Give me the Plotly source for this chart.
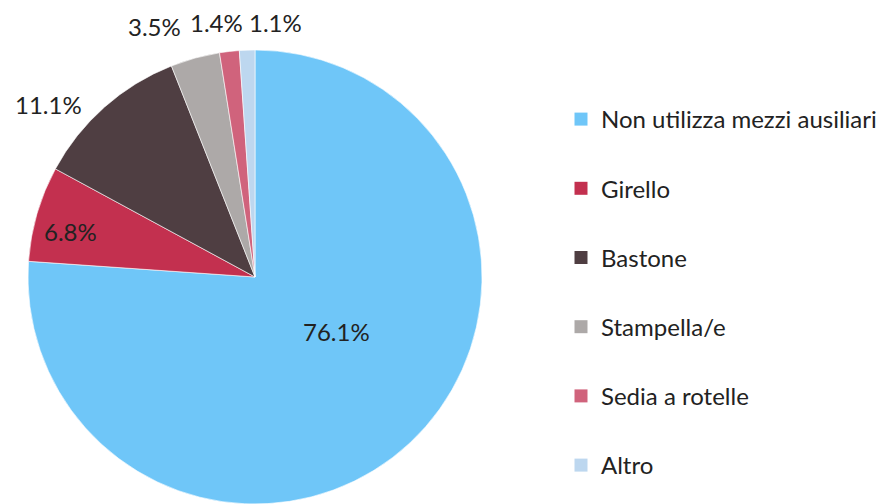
import plotly.graph_objects as go

categories = ["Non utilizza mezzi ausiliari", "Girello", "Bastone", "Stampella/e", "Sedia a rotelle", "Altro"]
values = [76.1, 6.8, 11.1, 3.5, 1.4, 1.1]
colors = ["#6FC6F8", "#C3304F", "#4F3E42", "#ADA9A8", "#D0637C", "#BDD7EF"]

W, H = 891, 504
OFF = 8  # page body margin compensation
# label anchor positions in page pixels (text placement only)
label_px = [(336, 331), (70, 231), (48, 104), (154, 27), (216, 22), (275, 22)]

CX, CY, R = 255 - OFF, 277 - OFF, 227

FONT = "Lato"
fig = go.Figure()
fig.add_trace(go.Pie(
    labels=categories, values=values, sort=False, direction="clockwise", rotation=0,
    marker=dict(colors=colors, line=dict(color="white", width=0.6)),
    textinfo="none", hoverinfo="label+percent", showlegend=False,
    domain=dict(x=[(CX - R) / W, (CX + R) / W], y=[1 - (CY + R) / H, 1 - (CY - R) / H]),
))
for i, (cat, col) in enumerate(zip(categories, colors)):
    fig.add_trace(go.Scatter(
        x=[None], y=[None], mode="markers", name=cat, legendgroup=f"g{i}",
        marker=dict(symbol="square", size=13, color=col), showlegend=True,
    ))

for v, (px, py) in zip(values, label_px):
    fig.add_annotation(x=(px - OFF) / W, y=1 - (py - OFF) / H, xref="paper", yref="paper",
                       xanchor="center", yanchor="middle",
                       text=f"{v:.1f}%", showarrow=False,
                       font=dict(family=FONT, size=24, color="#222"))

fig.update_layout(
    width=W, height=H, margin=dict(l=0, r=0, t=0, b=0),
    paper_bgcolor="white", plot_bgcolor="white",
    xaxis=dict(visible=False), yaxis=dict(visible=False),
    font=dict(family=FONT, color="#222"),
    legend=dict(x=(561 - OFF) / W, y=1 - (97 - OFF) / H, xanchor="left", yanchor="top",
                font=dict(family=FONT, size=24, color="#222"),
                tracegroupgap=35, traceorder="grouped", itemwidth=30,
                bgcolor="rgba(0,0,0,0)"),
)
fig.write_html("out.html")
